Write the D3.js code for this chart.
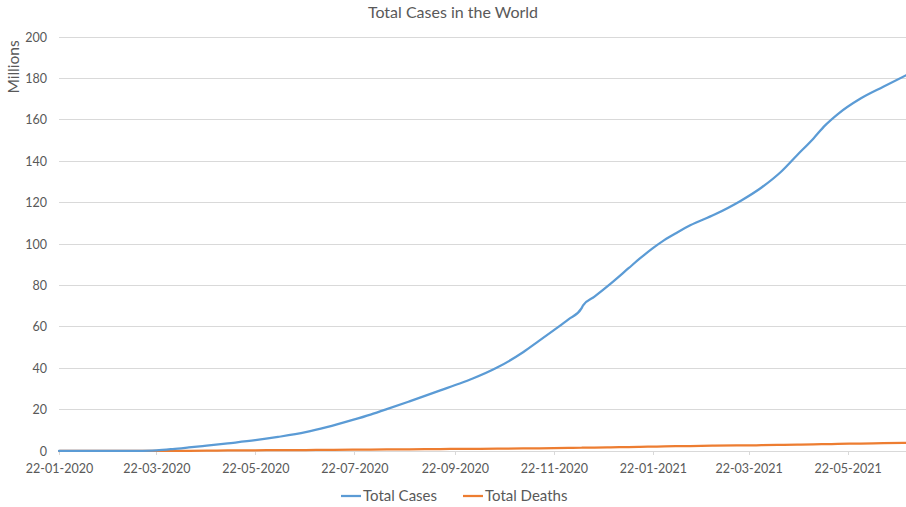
<!DOCTYPE html>
<html>
<head>
<meta charset="utf-8">
<script src="https://cdn.jsdelivr.net/npm/d3@7/dist/d3.min.js"></script>
<style>
  html, body { margin: 0; padding: 0; background: #fff; }
  svg { display: block; font-family: Lato, "Open Sans", sans-serif; }
</style>
</head>
<body>
<svg id="chart" width="906" height="507"></svg>
<script>
// Cumulative worldwide totals, in millions
const dates = [
  "2020-01-22","2020-02-22","2020-03-01","2020-03-10","2020-03-22","2020-04-01",
  "2020-04-11","2020-04-22","2020-05-05","2020-05-22","2020-06-05","2020-06-22",
  "2020-07-05","2020-07-21","2020-08-01","2020-08-11","2020-08-25","2020-09-13",
  "2020-09-25","2020-10-03","2020-10-18","2020-11-03","2020-11-13","2020-11-22",
  "2020-12-01","2020-12-09","2020-12-10","2020-12-17","2020-12-27","2021-01-07",
  "2021-01-14","2021-01-22","2021-01-29","2021-02-06","2021-02-14","2021-03-01",
  "2021-03-17","2021-03-30","2021-04-11","2021-04-21","2021-05-01","2021-05-08",
  "2021-05-16","2021-05-30","2021-06-13","2021-06-27"
];
const totalCases = [
  0.0006, 0.079, 0.088, 0.119, 0.34, 0.93,
  1.7, 2.6, 3.7, 5.2, 6.8, 9.1,
  11.5, 15.0, 17.6, 20.2, 24.0, 29.3,
  32.6, 35.0, 40.3, 47.7, 53.3, 58.4,
  63.6, 68.9, 70.4, 74.6, 80.9, 88.3,
  93.0, 98.0, 101.9, 105.6, 109.0, 114.2,
  120.8, 127.3, 134.9, 143.0, 151.0, 157.2,
  162.8, 170.3, 176.0, 181.5
];
const totalDeaths = [
  0.00002, 0.0024, 0.003, 0.004, 0.015, 0.05,
  0.11, 0.18, 0.26, 0.33, 0.40, 0.47,
  0.53, 0.61, 0.69, 0.74, 0.82, 0.93,
  1.00, 1.04, 1.12, 1.22, 1.29, 1.37,
  1.47, 1.57, 1.59, 1.65, 1.78, 1.91,
  2.00, 2.12, 2.22, 2.32, 2.41, 2.55,
  2.69, 2.79, 2.93, 3.07, 3.22, 3.30,
  3.44, 3.57, 3.82, 3.93
];
const yTicks = [0, 20, 40, 60, 80, 100, 120, 140, 160, 180, 200];
const xTickLabels = [
  "22-01-2020","22-03-2020","22-05-2020","22-07-2020","22-09-2020",
  "22-11-2020","22-01-2021","22-03-2021","22-05-2021"
];
const seriesNames = ["Total Cases", "Total Deaths"];
const seriesColors = ["#5B9BD5", "#ED7D31"];

const parse = d3.timeParse("%Y-%m-%d");
const parseTick = d3.timeParse("%d-%m-%Y");
const W = 906, H = 507;
const margin = { left: 59, right: 0, top: 37, bottom: 56 };

const svg = d3.select("#chart");
const x = d3.scaleTime()
  .domain([parse("2020-01-22"), parse("2021-06-27")])
  .range([margin.left, W - margin.right]);
const y = d3.scaleLinear()
  .domain([0, 200])
  .range([H - margin.bottom, margin.top]);

const textColor = "#595959";
const gridColor = "#D9D9D9";

// Horizontal gridlines
svg.append("g")
  .selectAll("line")
  .data(yTicks.filter(d => d > 0))
  .join("line")
  .attr("x1", x.range()[0]).attr("x2", x.range()[1])
  .attr("y1", d => y(d)).attr("y2", d => y(d))
  .attr("stroke", gridColor).attr("stroke-width", 1)
  .attr("shape-rendering", "crispEdges");

// Y axis labels
const yAxis = svg.append("g")
  .attr("transform", `translate(${margin.left},0)`)
  .call(d3.axisLeft(y).tickValues(yTicks).tickSize(0).tickPadding(12));
yAxis.select(".domain").remove();
yAxis.selectAll("text")
  .attr("fill", textColor).attr("font-size", 12.5).attr("font-family", "Lato, sans-serif");

// X axis with tick marks below the baseline
const xAxis = svg.append("g")
  .attr("transform", `translate(0,${y(0)})`)
  .call(d3.axisBottom(x)
    .tickValues(xTickLabels.map(parseTick))
    .tickFormat(d3.timeFormat("%d-%m-%Y"))
    .tickSizeInner(4).tickSizeOuter(0).tickPadding(9));
xAxis.selectAll(".tick line").attr("y2", 4);
xAxis.select(".domain").attr("stroke", gridColor).attr("shape-rendering", "crispEdges");
xAxis.selectAll(".tick line").attr("stroke", gridColor).attr("shape-rendering", "crispEdges");
xAxis.selectAll("text")
  .attr("fill", textColor).attr("font-size", 12.5).attr("font-family", "Lato, sans-serif");

// Series lines
const rows = dates.map((d, i) => ({ date: parse(d), values: [totalCases[i], totalDeaths[i]] }));
const line = k => d3.line()
  .x(d => x(d.date))
  .y(d => y(d.values[k]))
  .curve(d3.curveMonotoneX);

[1, 0].forEach(k => {
  svg.append("path")
    .datum(rows)
    .attr("fill", "none")
    .attr("stroke", seriesColors[k])
    .attr("stroke-width", 2.25)
    .attr("stroke-linejoin", "round")
    .attr("stroke-linecap", "round")
    .attr("d", line(k));
});

// Title
svg.append("text")
  .attr("x", W / 2).attr("y", 18)
  .attr("text-anchor", "middle")
  .attr("fill", textColor).attr("font-size", 16)
  .text("Total Cases in the World");

// Y axis title
svg.append("text")
  .attr("transform", "translate(19,67) rotate(-90)")
  .attr("text-anchor", "middle")
  .attr("fill", textColor).attr("font-size", 15.5)
  .text("Millions");

// Legend
const legendItems = [
  { name: seriesNames[0], color: seriesColors[0], x: 341 },
  { name: seriesNames[1], color: seriesColors[1], x: 463 }
];
const lg = svg.append("g");
legendItems.forEach(item => {
  lg.append("line")
    .attr("x1", item.x).attr("x2", item.x + 20)
    .attr("y1", 496).attr("y2", 496)
    .attr("stroke", item.color).attr("stroke-width", 2.25);
  lg.append("text")
    .attr("x", item.x + 22).attr("y", 501)
    .attr("fill", textColor).attr("font-size", 15)
    .text(item.name);
});
</script>
</body>
</html>
